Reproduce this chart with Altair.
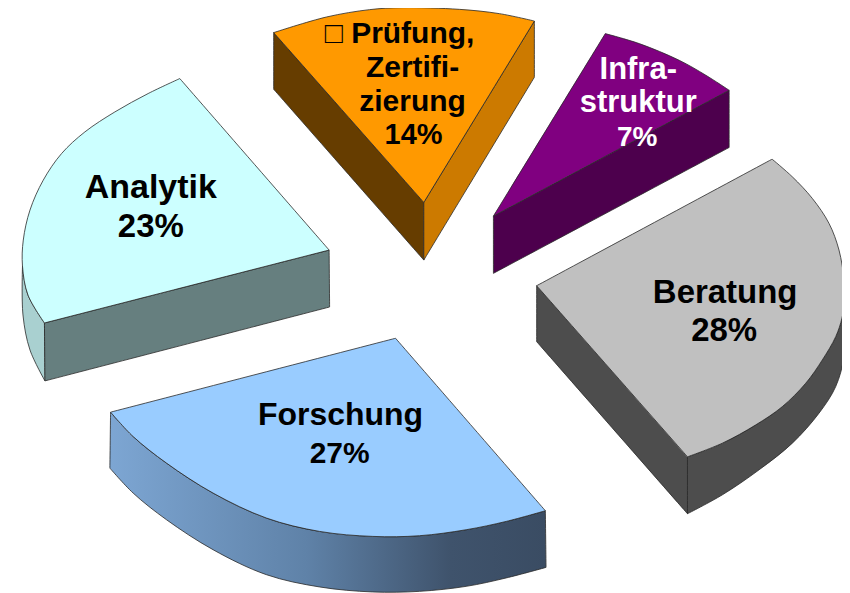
import altair as alt
import pandas as pd

# Outlines; a repeated vertex is a sharp corner.
ana_top_x = [329.5,329.5,180,180,148.3,115,85,61.7,43.3,30,23.3,22.5,28,44.5,44.5,329.5,329.5]
ana_top_y = [250,250,78.3,78.3,93.3,111.7,131.7,153.3,180,210,240,266,295,323,323,250,250]
ana_front_x = [44.5,44.5,329.5,329.5,330,330,45,45,44.5,44.5]
ana_front_y = [323,323,250,250,307,307,381,381,323,323]
ana_edge_x = [22.5,22.5,28,44.5,44.5,45,45,30,23,22.5,22.5]
ana_edge_y = [266,266,295,323,323,381,381,350,315,266,266]

pru_top_x = [424.3,424.3,274,274,326.7,370,403,460,500,535,535,424.3,424.3]
pru_top_y = [202.3,202.3,32.3,32.3,16.7,9.3,7.3,9,13.3,20.7,20.7,202.3,202.3]
pru_left_x = [274,274,424.3,424.3,424.3,424.3,274,274,274,274]
pru_left_y = [32.3,32.3,202.3,202.3,260,260,89,89,32.3,32.3]
pru_right_x = [424.3,424.3,535,535,535,535,424.3,424.3,424.3,424.3]
pru_right_y = [202.3,202.3,20.7,20.7,77,77,260,260,202.3,202.3]

inf_top_x = [494,494,606,606,640,680,706.7,730,730,494,494]
inf_top_y = [216,216,33.3,33.3,43.3,60,75,90,90,216,216]
inf_side_x = [494,494,730,730,730,730,494,494,494,494]
inf_side_y = [216,216,90,90,147.3,147.3,273.3,273.3,216,216]

ber_top_x = [537.3,537.3,773,773,793.3,813.3,830,840,845,845.5,843,836.7,823.3,806.7,783.3,756.7,723.3,688.3,688.3,537.3,537.3]
ber_top_y = [285.7,285.7,159,159,176.7,198.3,223.3,250,280,300,318,336.7,360,383.3,406.7,425,443.3,457,457,285.7,285.7]
ber_left_x = [537.3,537.3,688.3,688.3,688.3,688.3,537.3,537.3,537.3,537.3]
ber_left_y = [285.7,285.7,457,457,514,514,341.7,341.7,285.7,285.7]
ber_edge_x = [688.3,688.3,723.3,756.7,783.3,806.7,823.3,836.7,843,845.5,845.5,846,845,836.7,820,793.3,760,723.3,688.3,688.3,688.3,688.3]
ber_edge_y = [457,457,443.3,425,406.7,383.3,360,336.7,318,300,300,318,356.7,386.7,413.3,443.3,470,495,514,514,457,457]

for_top_x = [396,396,110.7,110.7,133.3,166.7,213.3,266.7,320,373.3,420,466.7,506.7,546,546,396,396]
for_top_y = [338.3,338.3,412.3,412.3,436.7,463.3,493.3,518.3,531.7,536.7,536,530,521.7,511,511,338.3,338.3]
for_side_x = [110.7,110.7,133.3,166.7,213.3,266.7,320,373.3,420,466.7,506.7,546,546,546.7,546.7,506.7,466.7,420,373,320,266.7,213.3,166.7,133.3,110,110,110.7,110.7]
for_side_y = [412.3,412.3,436.7,463.3,493.3,518.3,531.7,536.7,536,530,521.7,511,511,567.7,567.7,578.3,586.7,591.7,592.3,587.3,575,550,520,493.3,468.3,468.3,412.3,412.3]

side_gradient = alt.Gradient(
    gradient="linear", x1=0, y1=0, x2=1, y2=0,
    stops=[alt.GradientStop(color="#7DA6D3", offset=0),
           alt.GradientStop(color="#5F82A8", offset=0.45),
           alt.GradientStop(color="#3F536C", offset=0.78),
           alt.GradientStop(color="#3A4C63", offset=1)],
)

shapes = [
    (ana_edge_x, ana_edge_y, "#A9D0D0"),
    (ana_front_x, ana_front_y, "#667F7F"),
    (ana_top_x, ana_top_y, "#CCFFFF"),
    (pru_left_x, pru_left_y, "#663D00"),
    (pru_right_x, pru_right_y, "#CC7A00"),
    (pru_top_x, pru_top_y, "#FF9900"),
    (inf_side_x, inf_side_y, "#4D004D"),
    (inf_top_x, inf_top_y, "#800080"),
    (ber_left_x, ber_left_y, "#4D4D4D"),
    (ber_edge_x, ber_edge_y, "#4D4D4D"),
    (ber_top_x, ber_top_y, "#C0C0C0"),
    (for_side_x, for_side_y, side_gradient),
    (for_top_x, for_top_y, "#99CCFF"),
]

label_text = ["Analytik", "23%", "\u25a1 Prüfung,", "Zertifi-", "zierung", "14%",
              "Infra-", "struktur", "7%", "Beratung", "28%", "Forschung", "27%"]
label_x = [151, 151, 400, 413, 413, 414, 639, 639, 638, 726, 725, 341, 340]
label_y = [198, 237, 43, 77, 111, 144, 79, 112, 146, 303, 341, 425, 463]
label_size = [34, 33, 30, 30, 30, 29, 31, 31, 28, 33, 33, 32, 30]
label_color = ["#000000"] * 6 + ["#FFFFFF"] * 3 + ["#000000"] * 4

x_scale = alt.Scale(domain=[8, 843], nice=False, zero=False)
y_scale = alt.Scale(domain=[8, 593], reverse=True, nice=False, zero=False)

layers = []
for xs, ys, fill in shapes:
    df = pd.DataFrame({"x": xs, "y": ys, "i": range(len(xs))})
    layers.append(
        alt.Chart(df).mark_line(
            interpolate="catmull-rom", fill=fill, stroke="#2A2A2A", strokeWidth=0.8
        ).encode(
            x=alt.X("x:Q", scale=x_scale, axis=None),
            y=alt.Y("y:Q", scale=y_scale, axis=None),
            order=alt.Order("i:Q"),
        )
    )

labels = pd.DataFrame({"t": label_text, "x": label_x, "y": label_y,
                       "s": label_size, "c": label_color})
text = alt.Chart(labels).mark_text(
    font="Liberation Sans", fontWeight="bold", align="center", baseline="alphabetic"
).encode(
    x=alt.X("x:Q", scale=x_scale, axis=None),
    y=alt.Y("y:Q", scale=y_scale, axis=None),
    text="t:N",
    size=alt.Size("s:Q", scale=None, legend=None),
    color=alt.Color("c:N", scale=None, legend=None),
)

chart = alt.layer(*layers, text).properties(
    width=835, height=585, padding=0, autosize=alt.AutoSizeParams(type="none"),
    background="#FFFFFF",
).configure_view(stroke=None)

chart.save("out.html", embed_options={"renderer": "svg", "actions": False})
